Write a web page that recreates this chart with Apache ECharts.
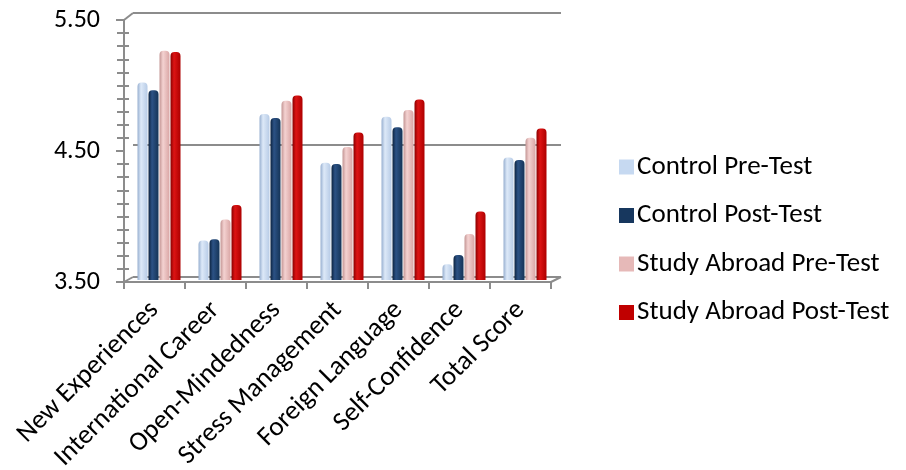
<!DOCTYPE html>
<html>
<head>
<meta charset="utf-8">
<script src="https://cdn.jsdelivr.net/npm/echarts@6/dist/echarts.min.js"></script>
<style>
html,body{margin:0;padding:0;background:#fff;}
#chart{width:906px;height:470px;}
</style>
</head>
<body>
<div id="chart"></div>
<script>
const categories = ["New Experiences","International Career","Open-Mindedness","Stress Management","Foreign Language","Self-Confidence","Total Score"];
const seriesNames = ["Control Pre-Test","Control Post-Test","Study Abroad Pre-Test","Study Abroad Post-Test"];
const controlPre   = [5.00, 3.80, 4.76, 4.39, 4.74, 3.62, 4.43];
const controlPost  = [4.94, 3.81, 4.73, 4.38, 4.66, 3.69, 4.41];
const abroadPre    = [5.24, 3.96, 4.86, 4.51, 4.79, 3.85, 4.58];
const abroadPost   = [5.23, 4.07, 4.90, 4.62, 4.87, 4.02, 4.65];
const yTicks = [3.5, 4.5, 5.5];

const FONT = 'Carlito, Lato, sans-serif';
const GRID_COLOR = '#8c8c8c';
const baseColors = ['#c6d9f1', '#17375e', '#e6b9b8', '#c00000'];
const gradStops = [
  ['#97afd0', '#dde9f8', '#b7cbe6'],
  ['#0c2340', '#2c5285', '#153457'],
  ['#c39594', '#f4d2d1', '#d9a6a5'],
  ['#8a0000', '#dd1414', '#ad0000']
];
function grad(i){
  const s = gradStops[i];
  return new echarts.graphic.LinearGradient(0,0,1,0,[
    {offset:0,color:s[0]},{offset:0.35,color:s[1]},{offset:1,color:s[2]}
  ]);
}
const values = [controlPre, controlPost, abroadPre, abroadPost];

const chart = echarts.init(document.getElementById('chart'));
const yMin = yTicks[0], yMax = yTicks[yTicks.length-1];
const NB = {outerBoundsMode:'none', containLabel:false};

const option = {
  animation:false,
  backgroundColor:'#ffffff',
  grid:[
    Object.assign({left:124, top:20, width:427, height:262}, NB),   // front
    Object.assign({left:133, top:13, width:428, height:264}, NB),   // back wall
    Object.assign({left:128.5, top:16.5, width:427, height:263.5}, NB), // bars (mid depth)
    Object.assign({left:124, top:20, width:427, height:262}, NB)    // overlay for inner minor ticks
  ],
  legend:{
    orient:'vertical', left:614, top:147, icon:'rect',
    itemWidth:15, itemHeight:15, itemGap:18.5,
    textStyle:{fontFamily:FONT, fontSize:27, color:'#000', lineHeight:30, padding:[0,0,0,-2]},
    data: seriesNames.map((n,i)=>({name:n, itemStyle:{color:baseColors[i]}}))
  },
  xAxis:[
    {type:'category', gridIndex:0, data:categories,
     axisLine:{lineStyle:{color:GRID_COLOR,width:2}},
     axisTick:{show:true, length:7, lineStyle:{color:GRID_COLOR,width:2}},
     axisLabel:{rotate:45, margin:24, fontFamily:FONT, fontSize:27, color:'#000', interval:0, hideOverlap:false},
     splitLine:{show:false}},
    {type:'category', gridIndex:1, data:categories, show:false},
    {type:'category', gridIndex:2, data:categories, show:false},
    {type:'category', gridIndex:3, data:categories, show:false}
  ],
  yAxis:[
    {type:'value', gridIndex:0, min:yMin, max:yMax, interval:1,
     axisLine:{show:true, lineStyle:{color:GRID_COLOR,width:2}},
     axisTick:{show:true, length:8, lineStyle:{color:GRID_COLOR,width:2}},
     minorTick:{show:true, splitNumber:10, length:7, lineStyle:{color:GRID_COLOR,width:2}},
     axisLabel:{margin:24, fontFamily:FONT, fontSize:26, color:'#000', formatter:v=>v.toFixed(2)},
     splitLine:{show:false}},
    {type:'value', gridIndex:1, min:yMin, max:yMax, interval:1,
     axisLine:{show:false}, axisTick:{show:false}, axisLabel:{show:false},
     splitLine:{show:true, lineStyle:{color:GRID_COLOR,width:2}}},
    {type:'value', gridIndex:2, min:yMin, max:yMax, show:false, splitLine:{show:false}},
    {type:'value', gridIndex:3, min:yMin, max:yMax, interval:1, position:'left',
     axisLine:{show:false}, axisLabel:{show:false}, splitLine:{show:false},
     axisTick:{show:false, inside:true},
     minorTick:{show:true, splitNumber:10, length:5, lineStyle:{color:GRID_COLOR,width:2}}}
  ],
  series: seriesNames.map((n,i)=>({
    name:n, type:'bar', xAxisIndex:2, yAxisIndex:2,
    data: values[i], barWidth:10, barGap:'10%', barCategoryGap:'28%',
    itemStyle:{color:grad(i), borderRadius:[4,4,0,0]},
    emphasis:{disabled:true}
  }))
};
chart.setOption(option);

// perspective edges of the 3D box, derived from grid geometry
const g0 = chart.getModel().getComponent('grid',0).coordinateSystem.getRect();
const g1 = chart.getModel().getComponent('grid',1).coordinateSystem.getRect();
const lineStyle = {stroke:GRID_COLOR, lineWidth:2};
chart.setOption({graphic:[
  {type:'line', shape:{x1:g0.x, y1:g0.y, x2:g1.x, y2:g1.y}, style:lineStyle, z:10},
  {type:'line', shape:{x1:g0.x, y1:g0.y+g0.height, x2:g1.x, y2:g1.y+g1.height}, style:lineStyle, z:10},
  {type:'line', shape:{x1:g0.x+g0.width, y1:g0.y+g0.height, x2:g1.x+g1.width, y2:g1.y+g1.height}, style:lineStyle, z:10}
]});
</script>
</body>
</html>
